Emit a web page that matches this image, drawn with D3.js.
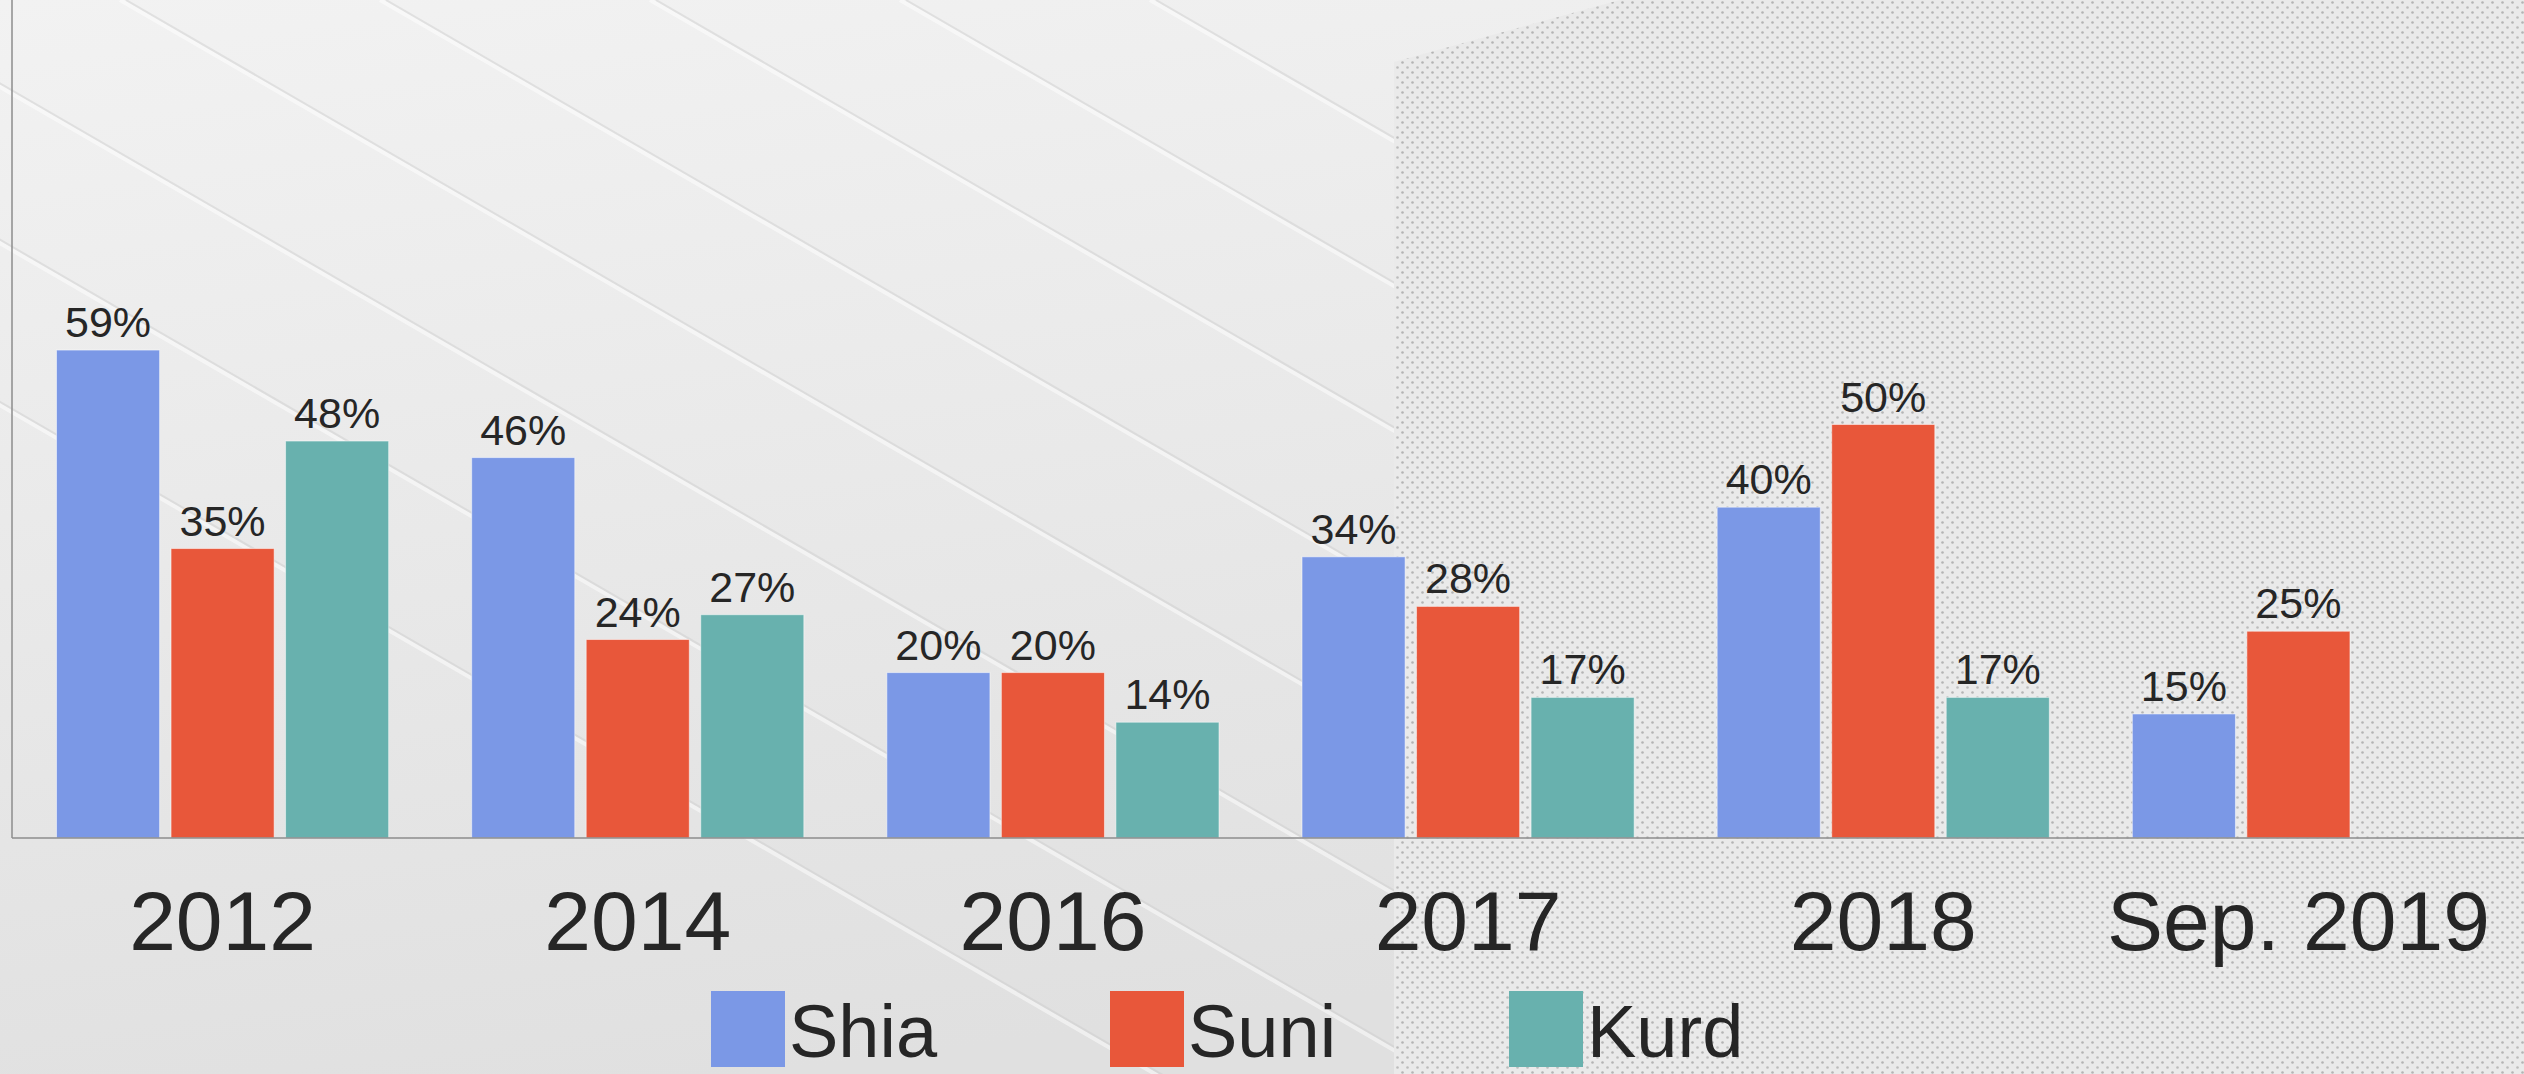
<!DOCTYPE html>
<html>
<head>
<meta charset="utf-8">
<script src="https://cdn.jsdelivr.net/npm/d3@7"></script>
<style>
  html, body { margin: 0; padding: 0; background: #e8e8e8; overflow: hidden; }
  text { font-family: "Liberation Sans", Arial, sans-serif; fill: #262626; }
</style>
</head>
<body>
<div id="chart"></div>
<script>
// chart data
const categories = ["2012", "2014", "2016", "2017", "2018", "Sep. 2019"];
const seriesNames = ["Shia", "Suni", "Kurd"];
const shia = [59, 46, 20, 34, 40, 15];
const suni = [35, 24, 20, 28, 50, 25];
const kurd = [48, 27, 14, 17, 17, null];
const colors = ["#7b98e6", "#e8573a", "#68b1ae"];

const width = 2524,
      height = 1074;

const baseY = 838,
      axisX = 12;

const svg = d3.select("#chart")
  .append("svg")
    .attr("width", width)
    .attr("height", height);

// ---- background (photo-ish texture) ----
const defs = svg.append("defs");
const grad = defs.append("linearGradient")
    .attr("id", "bg")
    .attr("x1", 0).attr("y1", 0).attr("x2", 0.3).attr("y2", 1);
grad.append("stop").attr("offset", "0%").attr("stop-color", "#f2f2f2");
grad.append("stop").attr("offset", "100%").attr("stop-color", "#e0e0e0");

const dots = defs.append("pattern")
    .attr("id", "dots")
    .attr("width", 10).attr("height", 10)
    .attr("patternUnits", "userSpaceOnUse");
dots.append("rect").attr("width", 10).attr("height", 10).attr("fill", "#eaeaea");
dots.append("circle").attr("cx", 2.5).attr("cy", 2.5).attr("r", 1.3).attr("fill", "#b4b4b4");
dots.append("circle").attr("cx", 7.5).attr("cy", 7.5).attr("r", 1.3).attr("fill", "#bcbcbc");

svg.append("rect")
    .attr("width", width).attr("height", height)
    .attr("fill", "url(#bg)");

// diagonal light streaks on the left part
const streaks = [-700, -420, -150, 120, 380, 650, 900, 1150];
svg.append("g")
  .selectAll("line")
  .data(streaks)
  .join("line")
    .attr("x1", d => d)
    .attr("y1", 0)
    .attr("x2", d => d + 1900)
    .attr("y2", 1100)
    .attr("stroke", "#ffffff")
    .attr("stroke-width", 4)
    .attr("opacity", 0.5);
svg.append("g")
  .selectAll("line")
  .data(streaks)
  .join("line")
    .attr("x1", d => d + 6)
    .attr("y1", 0)
    .attr("x2", d => d + 1906)
    .attr("y2", 1100)
    .attr("stroke", "#cccccc")
    .attr("stroke-width", 2)
    .attr("opacity", 0.45);

// dotted panel on the right
svg.append("path")
    .attr("d", "M1394,62 L1620,0 L2524,0 L2524,1074 L1394,1074 Z")
    .attr("fill", "url(#dots)");

// ---- scales ----
const x0 = d3.scaleBand()
    .domain(categories)
    .range([15, 2506])
    .paddingInner(0.2)
    .paddingOuter(0.1);

const x1 = d3.scaleBand()
    .domain(seriesNames)
    .range([0, x0.bandwidth()])
    .paddingInner(0.1)
    .paddingOuter(0);

const y = d3.scaleLinear()
    .domain([0, 100])
    .range([baseY, 11]);

const color = d3.scaleOrdinal()
    .domain(seriesNames)
    .range(colors);

const values = [shia, suni, kurd];
const rows = categories.map((c, i) => ({
  cat: c,
  vals: seriesNames.map((s, j) => ({ key: s, value: values[j][i] }))
}));

// ---- bars ----
const groups = svg.append("g")
  .selectAll("g")
  .data(rows)
  .join("g")
    .attr("transform", d => `translate(${x0(d.cat)},0)`);

groups.selectAll("rect")
  .data(d => d.vals.filter(v => v.value != null))
  .join("rect")
    .attr("x", d => x1(d.key))
    .attr("y", d => y(d.value))
    .attr("width", x1.bandwidth())
    .attr("height", d => y(0) - y(d.value))
    .attr("fill", d => color(d.key))
    .attr("stroke", "rgba(255,255,255,0.5)")
    .attr("stroke-width", 1);

groups.selectAll("text")
  .data(d => d.vals.filter(v => v.value != null))
  .join("text")
    .attr("x", d => x1(d.key) + x1.bandwidth() / 2)
    .attr("y", d => y(d.value) - 13)
    .attr("text-anchor", "middle")
    .style("font-size", "43px")
    .text(d => d.value + "%");

// ---- axes ----
svg.append("line")
    .attr("x1", axisX).attr("y1", 0)
    .attr("x2", axisX).attr("y2", baseY)
    .attr("stroke", "#8c8c8c")
    .attr("stroke-width", 1.5);

const xAxis = svg.append("g")
    .attr("transform", `translate(0,${baseY})`)
    .call(d3.axisBottom(x0).tickSize(0).tickPadding(0));
xAxis.select(".domain")
    .attr("d", `M${axisX},0H${width}`)
    .attr("stroke", "#8c8c8c")
    .attr("stroke-width", 1.5);
xAxis.selectAll(".tick text")
    .attr("dy", null)
    .attr("y", 112)
    .attr("fill", "#262626")
    .style("font-family", "'Liberation Sans', Arial, sans-serif")
    .style("font-size", "84px");

// ---- legend ----
const legend = svg.append("g")
  .selectAll("g")
  .data(seriesNames)
  .join("g")
    .attr("transform", (d, i) => `translate(${711 + i * 399},991)`);

legend.append("rect")
    .attr("width", 74)
    .attr("height", 76)
    .attr("fill", d => color(d));

legend.append("text")
    .attr("x", 78)
    .attr("y", 66)
    .style("font-size", "74px")
    .text(d => d);
</script>
</body>
</html>
